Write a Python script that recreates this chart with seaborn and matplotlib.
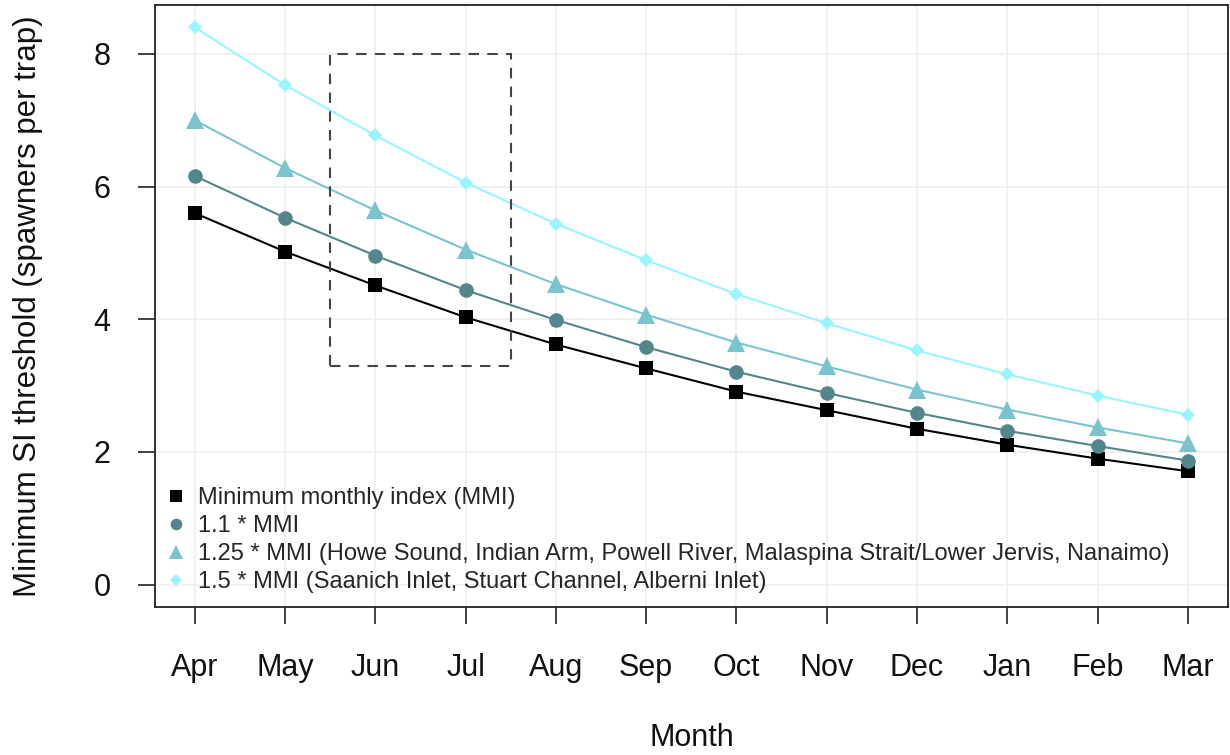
import matplotlib
matplotlib.use("Agg")
import matplotlib.pyplot as plt
import matplotlib.patches as mpatches
import seaborn as sns
import pandas as pd

months = ["Apr", "May", "Jun", "Jul", "Aug", "Sep", "Oct", "Nov", "Dec", "Jan", "Feb", "Mar"]
mmi = [5.60, 5.02, 4.51, 4.03, 3.62, 3.26, 2.91, 2.63, 2.35, 2.11, 1.90, 1.71]
mmi_110 = [6.16, 5.53, 4.96, 4.44, 3.99, 3.58, 3.21, 2.89, 2.59, 2.32, 2.09, 1.87]
mmi_125 = [7.00, 6.28, 5.64, 5.05, 4.53, 4.07, 3.65, 3.29, 2.94, 2.64, 2.37, 2.13]
mmi_150 = [8.40, 7.53, 6.77, 6.06, 5.44, 4.89, 4.38, 3.94, 3.53, 3.17, 2.85, 2.56]
labels = [
    "Minimum monthly index (MMI)",
    "1.1 * MMI",
    "1.25 * MMI (Howe Sound, Indian Arm, Powell River, Malaspina Strait/Lower Jervis, Nanaimo)",
    "1.5 * MMI (Saanich Inlet, Stuart Channel, Alberni Inlet)",
]
colors = ["#000000", "#53868B", "#7AC5CD", "#98F5FF"]
markers = ["s", "o", "^", "D"]
msizes = [10.5, 10.5, 12.5, 7.5]
box_months = [2.5, 4.5]
box_y = [3.3, 8.0]

series = [mmi, mmi_110, mmi_125, mmi_150]
rows = []
for lab, vals in zip(labels, series):
    for i, v in enumerate(vals):
        rows.append({"idx": i + 1, "month": months[i], "value": v, "series": lab})
df = pd.DataFrame(rows)

sns.set_style("white")
plt.rcParams["font.family"] = ["Liberation Sans", "DejaVu Sans"]

fig = plt.figure(figsize=(12.3, 7.55), dpi=100)
ax = fig.add_axes([0.126, 0.196, 0.872, 0.7974])

for lab, c, m, ms in zip(labels, colors, markers, msizes):
    sub = df[df["series"] == lab]
    sns.lineplot(data=sub, x="idx", y="value", ax=ax, color=c, marker=m,
                 markersize=ms, markeredgewidth=0, linewidth=1.5, label=lab,
                 zorder=3)

rect = mpatches.Rectangle((box_months[0], box_y[0]), box_months[1] - box_months[0],
                          box_y[1] - box_y[0], fill=False, edgecolor="#444444",
                          linestyle=(0, (5, 4)), linewidth=1.5, zorder=4)
ax.add_patch(rect)

ax.set_xlim(1 - 0.44, 12 + 0.44)
ax.set_ylim(-0.336, 8.736)
ax.set_xticks(range(1, 13))
ax.set_xticklabels(months)
ax.set_yticks([0, 2, 4, 6, 8])
ax.grid(True, color="#efefef", linewidth=1.2)
ax.set_axisbelow(True)
for s in ax.spines.values():
    s.set_color("#222222")
    s.set_linewidth(1.3)
ax.tick_params(axis="both", direction="out", length=12, width=1.2, color="#222222",
               labelsize=22, labelcolor="#111111", bottom=True, left=True)
ax.tick_params(axis="x", pad=21)
ax.tick_params(axis="y", pad=20)
ax.set_xlabel("")
ax.set_ylabel("")
fig.text(691.5 / 1230, 1 - 738 / 755, "Month", fontsize=22, color="#111111",
         ha="center", va="center")
fig.text(28 / 1230, 1 - 306 / 755, "Minimum SI threshold (spawners per trap)",
         fontsize=22.5, color="#111111", rotation=90, ha="center", va="center")

leg = ax.legend(loc="lower left", bbox_to_anchor=(-0.006, -0.004), frameon=False,
                fontsize=17, handlelength=0.9, handletextpad=0.5,
                labelspacing=0.25, borderaxespad=0.4, borderpad=0.3)
for h in leg.legend_handles:
    h.set_linestyle("")
    h.set_markersize(h.get_markersize() * 0.8)

fig.savefig("out.png", dpi=100)
